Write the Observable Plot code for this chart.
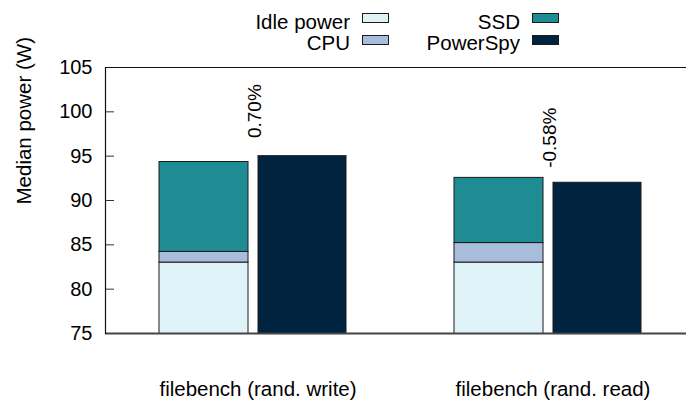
<!DOCTYPE html>
<html><head><meta charset="utf-8">
<script src="https://cdn.jsdelivr.net/npm/d3@7"></script>
<script src="https://cdn.jsdelivr.net/npm/@observablehq/plot@0.6"></script>
<style>
body{margin:0;background:#fff;}
#chart{position:relative;width:686px;height:401px;overflow:hidden;font-family:"Liberation Sans",Arial,sans-serif;}
#chart svg{position:absolute;left:0;top:0;}
.legcol{position:absolute;top:10.5px;font-size:20.5px;line-height:21.7px;color:#000;}
.legrow{display:flex;justify-content:flex-end;align-items:center;white-space:nowrap;}
.sw{width:27px;height:10px;box-sizing:border-box;border:1px solid #1a1a1a;margin-left:12px;position:relative;top:-3px;}
</style></head><body><div id="chart"></div>
<script>
const groups = ["filebench (rand. write)", "filebench (rand. read)"];
const components = ["Idle power", "CPU", "SSD"];
const idlePower = [83.0, 83.0];
const cpuPower = [1.2, 2.2];
const ssdPower = [10.14, 7.35];
const powerSpy = [95.0, 92.0];
const diffLabels = ["0.70%", "-0.58%"];
const yDomain = [75, 105];
const yTicks = [75, 80, 85, 90, 95, 100, 105];
const yLabel = "Median power (W)";
const seriesNames = ["Idle power", "CPU", "SSD", "PowerSpy"];
const seriesColors = ["#e0f3f8", "#a8bddb", "#1f8c94", "#00233f"];

const stackRows = [];
groups.forEach((g, i) => {
  stackRows.push({group: g, component: "Idle power", value: idlePower[i]});
  stackRows.push({group: g, component: "CPU", value: cpuPower[i]});
  stackRows.push({group: g, component: "SSD", value: ssdPower[i]});
});
const psRows = groups.map((g, i) => ({group: g, component: "PowerSpy", value: powerSpy[i]}));
const diffRows = groups.map((g, i) => ({group: g, value: powerSpy[i], label: diffLabels[i]}));

const W = 686, ML = 105, TICK = 9;
const chart = Plot.plot({
  width: W, height: 401,
  marginLeft: ML, marginRight: 0, marginTop: 67, marginBottom: 68,
  style: {fontFamily: "'Liberation Sans', Arial, sans-serif", fontSize: "20px", color: "#000", background: "#fff", overflow: "hidden"},
  x: {domain: groups, range: [105, 695], padding: 0},
  y: {domain: yDomain},
  color: {domain: seriesNames, range: seriesColors},
  marks: [
    Plot.barY(stackRows, {x: "group", y: "value", fill: "component", stroke: "#1a1a1a", strokeWidth: 1, insetLeft: 54, insetRight: 152, clip: true}),
    Plot.barY(psRows, {x: "group", y: "value", fill: "component", stroke: "#1a1a1a", strokeWidth: 1, insetLeft: 153, insetRight: 54, clip: true}),
    Plot.text(diffRows, {x: "group", y: "value", text: "label", rotate: -90, dy: -45, dx: 2, fontSize: 19, fill: "#000"}),
    Plot.tickY(yTicks, {y: d => d, stroke: "#333", strokeWidth: 1, insetRight: W - ML - TICK}),
    Plot.ruleY([yDomain[1]], {stroke: "#111", strokeWidth: 1.2}),
    Plot.ruleY([yDomain[0]], {stroke: "#444", strokeWidth: 2}),
    Plot.frame({anchor: "left", stroke: "#111", strokeWidth: 1.2}),
    Plot.axisY({ticks: yTicks, tickSize: 0, tickPadding: 13, fontSize: 20, label: null}),
    Plot.axisX({tickSize: 0, tickPadding: 48, dx: 5, fontSize: 20.5, label: null}),
    Plot.text([yLabel], {frameAnchor: "left", rotate: -90, dx: -81.5, dy: 4, fontSize: 20.5, fill: "#000"})
  ]
});
const host = document.getElementById("chart");
host.appendChild(chart);

function legendCol(items, right) {
  const col = document.createElement("div");
  col.className = "legcol";
  col.style.right = right + "px";
  items.forEach(name => {
    const row = document.createElement("div");
    row.className = "legrow";
    const t = document.createElement("span");
    t.textContent = name;
    const sw = document.createElement("span");
    sw.className = "sw";
    sw.style.background = seriesColors[seriesNames.indexOf(name)];
    row.appendChild(t); row.appendChild(sw);
    col.appendChild(row);
  });
  host.appendChild(col);
}
legendCol([seriesNames[0], seriesNames[1]], 297);
legendCol([seriesNames[2], seriesNames[3]], 127);
</script></body></html>
